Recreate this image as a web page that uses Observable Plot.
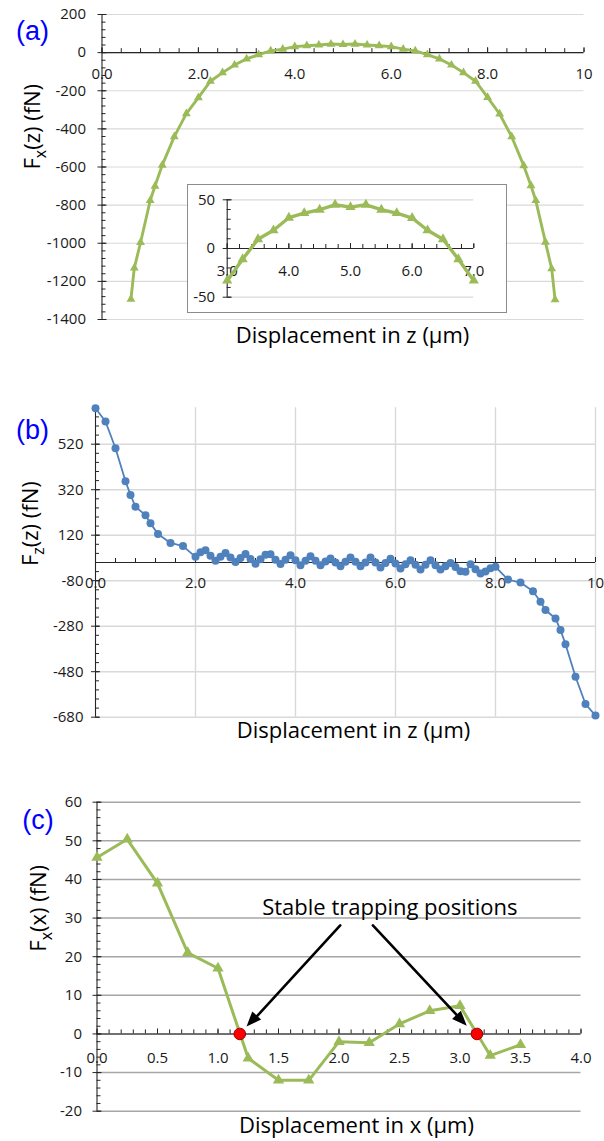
<!DOCTYPE html>
<html><head><meta charset="utf-8">
<script src="https://cdn.jsdelivr.net/npm/d3@7"></script>
<script src="https://cdn.jsdelivr.net/npm/@observablehq/plot@0.6"></script>
<style>
body{margin:0;background:#fff;}
#wrap{position:relative;width:604px;height:1141px;overflow:hidden;background:#fff;}
#wrap svg{position:absolute;}
</style></head><body><div id="wrap"></div><script>
// ---------------- data ----------------
// (a) Fx(z) vs displacement in z
const aZ = [0.6,0.67,0.8,1.0,1.1,1.25,1.5,1.75,2.0,2.25,2.5,2.75,3.0,3.25,3.5,3.75,4.0,4.25,4.5,4.75,5.0,5.25,5.5,5.75,6.0,6.25,6.5,6.75,7.0,7.25,7.5,7.75,8.0,8.25,8.5,8.75,8.9,9.0,9.2,9.33,9.4];
const aF = [-1293,-1130,-996,-776,-700,-590,-441,-320,-236,-150,-105,-65,-33,-11,9.5,18.7,31.6,36.4,39.8,44.9,42.5,44.9,39.8,36.4,31.3,18.7,9.5,-11,-33,-65,-105,-150,-235,-322,-441,-593,-698,-776,-994,-1134,-1296];
// (a) inset
const insetZ = [3.0,3.25,3.5,3.75,4.0,4.25,4.5,4.75,5.0,5.25,5.5,5.75,6.0,6.25,6.5,6.75,7.0];
const insetF = [-33,-11,9.5,18.7,31.6,36.4,39.8,44.9,42.5,44.9,39.8,36.4,31.3,18.7,9.5,-11,-33];
// (b) Fz(z) vs displacement in z
const bZ = [0,0.2,0.4,0.6,0.7,0.8,1.0,1.1,1.25,1.5,1.75,
2.0,2.1,2.2,2.3,2.4,2.5,2.6,2.7,2.8,2.9,3.0,3.1,3.2,3.3,3.4,3.5,3.6,3.7,3.8,3.9,
4.0,4.1,4.2,4.3,4.4,4.5,4.6,4.7,4.8,4.9,5.0,5.1,5.2,5.3,5.4,5.5,5.6,5.7,5.8,5.9,
6.0,6.1,6.2,6.3,6.4,6.5,6.6,6.7,6.8,6.9,7.0,7.1,7.2,7.3,7.4,7.5,7.6,7.7,7.8,7.9,8.0,
8.25,8.5,8.75,8.9,9.0,9.2,9.3,9.4,9.6,9.8,10.0];
const bF = [678,620,502,357,297,245,208,172,125,86,72,
25,45,54,30,8,25,42,22,2,20,37,15,-6,14,34,36,12,-7,12,32,
10,-12,8,28,8,-12,4,18,0,-16,3,22,3,-16,0,22,0,-22,-2,17,
-4,-26,-8,10,-10,-31,-10,10,-12,-31,-16,-2,-20,-38,-41,-8,-30,-48,-40,-25,-19,
-75,-88,-126,-173,-209,-246,-297,-359,-502,-622,-673];
// (c) Fx(x) vs displacement in x
const cX = [0,0.25,0.5,0.75,1.0,1.25,1.5,1.75,2.0,2.25,2.5,2.75,3.0,3.25,3.5];
const cF = [45.7,50.4,39,21,17,-6.3,-12,-12,-2,-2.3,2.6,6,7.3,-5.6,-2.8];
const trapX = [1.18, 3.14];
const trapF = [0, 0];
const noteText = ["Stable trapping positions"];
const noteX = [2.42], noteY = [32.5];
const arrowX1 = [2.01, 2.28], arrowY1 = [28.1, 28.1];
const arrowX2 = [1.24, 3.06], arrowY2 = [1.8, 2.0];

// tick values and labels
const aXTicks = [0,2,4,6,8,10];
const aXLabels = ["0.0","2.0","4.0","6.0","8.0","10"];
const aYTicks = [200,0,-200,-400,-600,-800,-1000,-1200,-1400];
const aYLabels = ["200","0","-200","-400","-600","-800","-1000","-1200","-1400"];
const inXTicks = [3,4,5,6,7];
const inXLabels = ["3.0","4.0","5.0","6.0","7.0"];
const inYTicks = [50,0,-50];
const inYLabels = ["50","0","-50"];
const bXTicks = [0,2,4,6,8,10];
const bXLabels = ["0.0","2.0","4.0","6.0","8.0","10"];
const bYTicks = [520,320,120,-80,-280,-480,-680];
const bYLabels = ["520","320","120","-80","-280","-480","-680"];
const cXTicks = [0,0.5,1,1.5,2,2.5,3,3.5,4];
const cXLabels = ["0.0","0.5","1.0","1.5","2.0","2.5","3.0","3.5","4.0"];
const cYTicks = [60,50,40,30,20,10,0,-10,-20];
const cYLabels = ["60","50","40","30","20","10","0","-10","-20"];

// ---------------- styling ----------------
const GREEN = "#9BBB59", BLUE = "#4F81BD", AX = "#262626", TXT = "#1a1a1a";
const FONT = "'Open Sans', sans-serif";
const TFS = 15; // tick label size

function axesMarks(o) {
  const m = [];
  if (o.vGrid) m.push(Plot.ruleX(o.vGrid, {stroke: o.gridColor, strokeWidth: o.gridWidth}));
  if (o.hGrid) m.push(Plot.ruleY(o.hGrid, {x1: o.x0, x2: o.x1, stroke: o.gridColor, strokeWidth: o.gridWidth}));
  m.push(Plot.ruleX([o.x0], {y1: o.y0, y2: o.y1, stroke: AX, strokeWidth: 1.1}));
  m.push(Plot.ruleY([0], {x1: o.x0, x2: o.x1, stroke: AX, strokeWidth: 1.1}));
  m.push(Plot.ruleY(o.yMinor, {y: d => d, x1: o.x0, x2: o.x0, insetRight: -4, stroke: AX}));
  m.push(Plot.ruleY(o.yTicks, {y: d => d, x1: o.x0, x2: o.x0, insetLeft: -4, insetRight: -5, stroke: AX}));
  m.push(Plot.ruleX(o.xMinor, {x: d => d, y1: 0, y2: 0, insetTop: -4, stroke: AX}));
  m.push(Plot.ruleX(o.xTicks, {x: d => d, y1: 0, y2: 0, insetTop: -5, stroke: AX}));
  m.push(Plot.text(o.yTicks, {x: o.x0, y: d => d, text: (d, i) => o.yLabels[i], textAnchor: "end", dx: o.yLabelDx, fontSize: o.fs, fill: TXT}));
  m.push(Plot.text(o.xTicks, {x: d => d, y: 0, text: (d, i) => o.xLabels[i], dy: o.xLabelDy, fontSize: o.fs, fill: TXT}));
  return m;
}
function subscript(svg, full, base, sub, rest, fs) {
  d3.select(svg).selectAll("text").each(function() {
    if (this.textContent === full) {
      const t = d3.select(this);
      t.text(null);
      t.append("tspan").text(base);
      t.append("tspan").attr("dy", fs * 0.28).attr("font-size", fs * 0.72).text(sub);
      t.append("tspan").attr("dy", -fs * 0.28).text(rest);
    }
  });
}
const wrap = document.getElementById("wrap");
function place(svg, left, top) { svg.style.left = left + "px"; svg.style.top = top + "px"; wrap.appendChild(svg); return svg; }
const range = (a, b, s) => d3.range(Math.round((b - a) / s) + 1).map(i => +(a + i * s).toFixed(6));

// ---------------- panel (a) ----------------
const aIdx = aZ.map((d, i) => i);
const svgA = Plot.plot({
  width: 604, height: 350, marginLeft: 101.5, marginRight: 20.5, marginTop: 14, marginBottom: 31,
  x: {domain: [0, 10], axis: null}, y: {domain: [-1400, 200], axis: null},
  style: {fontFamily: FONT, background: "white", overflow: "visible"},
  marks: [
    ...axesMarks({x0: 0, x1: 10, y0: -1400, y1: 200, hGrid: aYTicks, gridColor: "#d9d9d9", gridWidth: 1.2,
      xTicks: aXTicks, xLabels: aXLabels, yTicks: aYTicks, yLabels: aYLabels,
      xMinor: range(0, 10, 0.4), yMinor: range(-1400, 200, 40), yLabelDx: -16, xLabelDy: 22, fs: TFS}),
    Plot.line(aIdx, {x: i => aZ[i], y: i => aF[i], stroke: GREEN, strokeWidth: 2.9}),
    Plot.dot(aIdx, {x: i => aZ[i], y: i => aF[i], symbol: "triangle", r: 3.3, fill: GREEN}),
    Plot.text(["Displacement in z (µm)"], {frameAnchor: "bottom", lineAnchor: "middle", dx: 9.5, dy: 16, fontSize: 22, fill: "#000"}),
    Plot.text(["Fx(z) (fN)"], {frameAnchor: "left", lineAnchor: "middle", rotate: -90, dx: -69, dy: 2.5, fontSize: 22, fill: "#000"}),
    Plot.text(["(a)"], {frameAnchor: "top-left", lineAnchor: "middle", textAnchor: "middle", dx: -69.5, dy: 17, fontSize: 27, fill: "#0000ff", fontFamily: "'Liberation Sans', Arial, sans-serif"})
  ]
});
subscript(svgA, "Fx(z) (fN)", "F", "x", "(z) (fN)", 22);
place(svgA, 0, 0);

// inset
const inIdx = insetZ.map((d, i) => i);
const svgIn = Plot.plot({
  width: 320, height: 129, marginLeft: 39.7, marginRight: 33.7, marginTop: 15.3, marginBottom: 16.3,
  x: {domain: [3, 7], axis: null}, y: {domain: [-50, 50], axis: null},
  style: {fontFamily: FONT, background: "white", overflow: "visible"},
  marks: [
    ...axesMarks({x0: 3, x1: 7, y0: -50, y1: 50, hGrid: [50, -50], gridColor: "#d9d9d9", gridWidth: 1.2,
      xTicks: inXTicks, xLabels: inXLabels, yTicks: inYTicks, yLabels: inYLabels,
      xMinor: range(3, 7, 0.2), yMinor: range(-50, 50, 10), yLabelDx: -12, xLabelDy: 23, fs: TFS}),
    Plot.line(inIdx, {x: i => insetZ[i], y: i => insetF[i], stroke: GREEN, strokeWidth: 3.4}),
    Plot.dot(inIdx, {x: i => insetZ[i], y: i => insetF[i], symbol: "triangle", r: 3.8, fill: GREEN})
  ]
});
svgIn.style.outline = "1px solid #8c8c8c";
svgIn.style.outlineOffset = "-1px";
place(svgIn, 187, 184);

// ---------------- panel (b) ----------------
const bIdx = bZ.map((d, i) => i);
const svgB = Plot.plot({
  width: 604, height: 355, marginLeft: 95, marginRight: 9, marginTop: 17.3, marginBottom: 28.3,
  x: {domain: [0, 10], axis: null}, y: {domain: [-680, 680], axis: null},
  style: {fontFamily: FONT, background: "white", overflow: "visible"},
  marks: [
    ...axesMarks({x0: 0, x1: 10, y0: -680, y1: 680, hGrid: bYTicks, vGrid: [2, 4, 6, 8, 10], gridColor: "#d9d9d9", gridWidth: 1.4,
      xTicks: bXTicks, xLabels: bXLabels, yTicks: bYTicks, yLabels: bYLabels,
      xMinor: range(0, 10, 0.4), yMinor: range(-680, 680, 40), yLabelDx: -12, xLabelDy: 21, fs: TFS}),
    Plot.line(bIdx, {x: i => bZ[i], y: i => bF[i], stroke: BLUE, strokeWidth: 1.8}),
    Plot.dot(bIdx, {x: i => bZ[i], y: i => bF[i], r: 4, fill: BLUE}),
    Plot.text(["Displacement in z (µm)"], {frameAnchor: "bottom", lineAnchor: "middle", dx: 8, dy: 14, fontSize: 22, fill: "#000"}),
    Plot.text(["Fz(z) (fN)"], {frameAnchor: "left", lineAnchor: "middle", rotate: -90, dx: -65, dy: 3.5, fontSize: 22, fill: "#000"}),
    Plot.text(["(b)"], {frameAnchor: "top-left", lineAnchor: "middle", textAnchor: "middle", dx: -63, dy: 22.7, fontSize: 27, fill: "#0000ff", fontFamily: "'Liberation Sans', Arial, sans-serif"})
  ]
});
subscript(svgB, "Fz(z) (fN)", "F", "z", "(z) (fN)", 22);
place(svgB, 0, 390);

// ---------------- panel (c) ----------------
const cIdx = cX.map((d, i) => i);
const arrIdx = arrowX1.map((d, i) => i);
const svgC = Plot.plot({
  width: 604, height: 371, marginLeft: 96.5, marginRight: 23.5, marginTop: 31.7, marginBottom: 30.3,
  x: {domain: [0, 4], axis: null}, y: {domain: [-20, 60], axis: null},
  style: {fontFamily: FONT, background: "white", overflow: "visible"},
  marks: [
    ...axesMarks({x0: 0, x1: 4, y0: -20, y1: 60, hGrid: cYTicks, gridColor: "#a6a6a6", gridWidth: 1.5,
      xTicks: cXTicks, xLabels: cXLabels, yTicks: cYTicks, yLabels: cYLabels,
      xMinor: range(0, 4, 0.1), yMinor: range(-20, 60, 2), yLabelDx: -15, xLabelDy: 24, fs: TFS}),
    Plot.line(cIdx, {x: i => cX[i], y: i => cF[i], stroke: GREEN, strokeWidth: 3}),
    Plot.dot(cIdx, {x: i => cX[i], y: i => cF[i], symbol: "triangle", r: 4.2, fill: GREEN}),
    Plot.dot(trapX.map((d, i) => i), {x: i => trapX[i], y: i => trapF[i], r: 5.8, fill: "#ff0000", stroke: "#9a0000", strokeWidth: 1}),
    Plot.arrow(arrIdx, {x1: i => arrowX1[i], y1: i => arrowY1[i], x2: i => arrowX2[i], y2: i => arrowY2[i], stroke: "#000", strokeWidth: 2.6, headLength: 0, insetEnd: 9, bend: 0}),
    Plot.text([0], {x: i => noteX[i], y: i => noteY[i], text: i => noteText[i], fontSize: 22, fill: "#000", lineAnchor: "middle"}),
    Plot.text(["Displacement in x (µm)"], {frameAnchor: "bottom", lineAnchor: "middle", dx: 17.5, dy: 15, fontSize: 22, fill: "#000"}),
    Plot.text(["Fx(x) (fN)"], {frameAnchor: "left", lineAnchor: "middle", rotate: -90, dx: -58.5, dy: -5, fontSize: 22, fill: "#000"}),
    Plot.text(["(c)"], {frameAnchor: "top-left", lineAnchor: "middle", textAnchor: "middle", dx: -59, dy: 18.3, fontSize: 27, fill: "#0000ff", fontFamily: "'Liberation Sans', Arial, sans-serif"})
  ]
});
subscript(svgC, "Fx(x) (fN)", "F", "x", "(x) (fN)", 22);
// filled arrowheads, positioned through the plot's own scales
{
  const sx = svgC.scale("x"), sy = svgC.scale("y");
  const heads = arrIdx.map(i => {
    const x1 = sx.apply(arrowX1[i]), y1 = sy.apply(arrowY1[i]);
    const x2 = sx.apply(arrowX2[i]), y2 = sy.apply(arrowY2[i]);
    const a = Math.atan2(y2 - y1, x2 - x1), L = 15, W = 6;
    const bx = x2 - L * Math.cos(a), by = y2 - L * Math.sin(a);
    const px = -Math.sin(a) * W, py = Math.cos(a) * W;
    return `M${x2},${y2}L${bx + px},${by + py}L${bx - px},${by - py}Z`;
  });
  d3.select(svgC).append("g").selectAll("path").data(heads).join("path").attr("d", d => d).attr("fill", "#000");
}
place(svgC, 0, 770);
</script></body></html>
